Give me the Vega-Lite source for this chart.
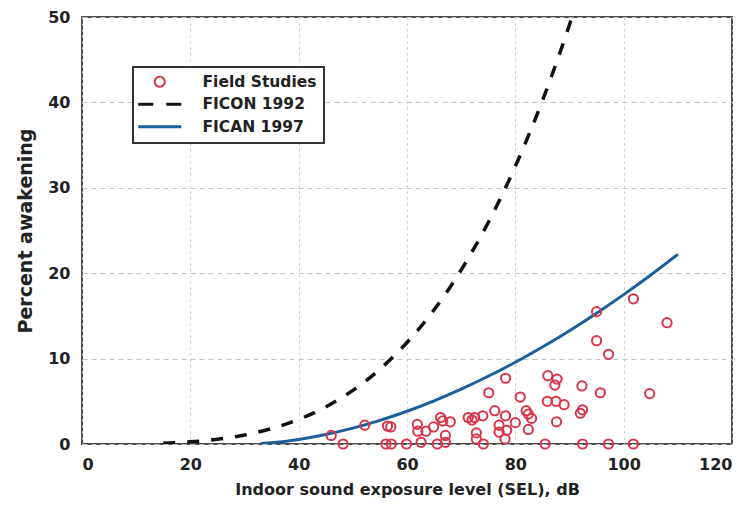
{
  "$schema": "https://vega.github.io/schema/vega-lite/v6.json",
  "width": 650,
  "height": 427,
  "autosize": {"type": "none"},
  "padding": {"left": 82, "top": 17, "right": 12, "bottom": 62},
  "background": "#ffffff",
  "datasets": {
    "ficon": [
      {"series": "FICON 1992", "sel": 15, "pct": 0.093},
      {"series": "FICON 1992", "sel": 20, "pct": 0.254},
      {"series": "FICON 1992", "sel": 25, "pct": 0.555},
      {"series": "FICON 1992", "sel": 30, "pct": 1.05},
      {"series": "FICON 1992", "sel": 35, "pct": 1.801},
      {"series": "FICON 1992", "sel": 40, "pct": 2.874},
      {"series": "FICON 1992", "sel": 45, "pct": 4.34},
      {"series": "FICON 1992", "sel": 50, "pct": 6.276},
      {"series": "FICON 1992", "sel": 55, "pct": 8.76},
      {"series": "FICON 1992", "sel": 60, "pct": 11.879},
      {"series": "FICON 1992", "sel": 65, "pct": 15.72},
      {"series": "FICON 1992", "sel": 70, "pct": 20.375},
      {"series": "FICON 1992", "sel": 75, "pct": 25.94},
      {"series": "FICON 1992", "sel": 80, "pct": 32.515},
      {"series": "FICON 1992", "sel": 85, "pct": 40.2},
      {"series": "FICON 1992", "sel": 88, "pct": 45.39},
      {"series": "FICON 1992", "sel": 90, "pct": 49.1},
      {"series": "FICON 1992", "sel": 90.45, "pct": 49.97}
    ],
    "fican": [
      {"series": "FICAN 1997", "sel": 33, "pct": 0.062},
      {"series": "FICAN 1997", "sel": 35, "pct": 0.155},
      {"series": "FICAN 1997", "sel": 40, "pct": 0.536},
      {"series": "FICAN 1997", "sel": 45, "pct": 1.108},
      {"series": "FICAN 1997", "sel": 50, "pct": 1.855},
      {"series": "FICAN 1997", "sel": 55, "pct": 2.767},
      {"series": "FICAN 1997", "sel": 60, "pct": 3.834},
      {"series": "FICAN 1997", "sel": 65, "pct": 5.054},
      {"series": "FICAN 1997", "sel": 70, "pct": 6.423},
      {"series": "FICAN 1997", "sel": 75, "pct": 7.93},
      {"series": "FICAN 1997", "sel": 80, "pct": 9.573},
      {"series": "FICAN 1997", "sel": 85, "pct": 11.355},
      {"series": "FICAN 1997", "sel": 90, "pct": 13.27},
      {"series": "FICAN 1997", "sel": 95, "pct": 15.32},
      {"series": "FICAN 1997", "sel": 100, "pct": 17.49},
      {"series": "FICAN 1997", "sel": 105, "pct": 19.79},
      {"series": "FICAN 1997", "sel": 110, "pct": 22.21}
    ],
    "field": [
      {"series": "Field Studies", "sel": 46.0, "pct": 1.0},
      {"series": "Field Studies", "sel": 48.2, "pct": 0},
      {"series": "Field Studies", "sel": 52.2, "pct": 2.2},
      {"series": "Field Studies", "sel": 56.1, "pct": 0},
      {"series": "Field Studies", "sel": 56.4, "pct": 2.1},
      {"series": "Field Studies", "sel": 57.0, "pct": 2.0},
      {"series": "Field Studies", "sel": 57.1, "pct": 0},
      {"series": "Field Studies", "sel": 59.9, "pct": 0},
      {"series": "Field Studies", "sel": 61.9, "pct": 2.3},
      {"series": "Field Studies", "sel": 62.0, "pct": 1.5},
      {"series": "Field Studies", "sel": 62.6, "pct": 0.2},
      {"series": "Field Studies", "sel": 63.5, "pct": 1.5},
      {"series": "Field Studies", "sel": 64.9, "pct": 2.0},
      {"series": "Field Studies", "sel": 65.6, "pct": 0},
      {"series": "Field Studies", "sel": 66.2, "pct": 3.1},
      {"series": "Field Studies", "sel": 66.6, "pct": 2.7},
      {"series": "Field Studies", "sel": 67.1, "pct": 1.0},
      {"series": "Field Studies", "sel": 67.1, "pct": 0.2},
      {"series": "Field Studies", "sel": 68.0, "pct": 2.6},
      {"series": "Field Studies", "sel": 71.3, "pct": 3.1},
      {"series": "Field Studies", "sel": 72.0, "pct": 2.8},
      {"series": "Field Studies", "sel": 72.5, "pct": 3.1},
      {"series": "Field Studies", "sel": 72.8, "pct": 1.3},
      {"series": "Field Studies", "sel": 72.8, "pct": 0.6},
      {"series": "Field Studies", "sel": 74.0, "pct": 3.3},
      {"series": "Field Studies", "sel": 74.1, "pct": 0},
      {"series": "Field Studies", "sel": 75.1, "pct": 6.0},
      {"series": "Field Studies", "sel": 76.2, "pct": 3.9},
      {"series": "Field Studies", "sel": 77.0, "pct": 2.2},
      {"series": "Field Studies", "sel": 77.0, "pct": 1.4},
      {"series": "Field Studies", "sel": 78.2, "pct": 7.7},
      {"series": "Field Studies", "sel": 78.2, "pct": 3.3},
      {"series": "Field Studies", "sel": 78.1, "pct": 0.6},
      {"series": "Field Studies", "sel": 78.4, "pct": 1.6},
      {"series": "Field Studies", "sel": 80.0, "pct": 2.5},
      {"series": "Field Studies", "sel": 80.9, "pct": 5.5},
      {"series": "Field Studies", "sel": 82.0, "pct": 3.9},
      {"series": "Field Studies", "sel": 82.4, "pct": 3.5},
      {"series": "Field Studies", "sel": 82.4, "pct": 1.7},
      {"series": "Field Studies", "sel": 83.0, "pct": 3.0},
      {"series": "Field Studies", "sel": 85.5, "pct": 0},
      {"series": "Field Studies", "sel": 86.0, "pct": 8.0},
      {"series": "Field Studies", "sel": 85.9, "pct": 5.0},
      {"series": "Field Studies", "sel": 87.3, "pct": 6.9},
      {"series": "Field Studies", "sel": 87.7, "pct": 7.6},
      {"series": "Field Studies", "sel": 87.5, "pct": 5.0},
      {"series": "Field Studies", "sel": 87.6, "pct": 2.6},
      {"series": "Field Studies", "sel": 89.0, "pct": 4.6},
      {"series": "Field Studies", "sel": 92.3, "pct": 6.8},
      {"series": "Field Studies", "sel": 92.4, "pct": 4.0},
      {"series": "Field Studies", "sel": 92.0, "pct": 3.6},
      {"series": "Field Studies", "sel": 92.4, "pct": 0},
      {"series": "Field Studies", "sel": 95.0, "pct": 15.5},
      {"series": "Field Studies", "sel": 95.0, "pct": 12.1},
      {"series": "Field Studies", "sel": 95.7, "pct": 6.0},
      {"series": "Field Studies", "sel": 97.2, "pct": 10.5},
      {"series": "Field Studies", "sel": 97.2, "pct": 0},
      {"series": "Field Studies", "sel": 101.8, "pct": 17.0},
      {"series": "Field Studies", "sel": 101.8, "pct": 0},
      {"series": "Field Studies", "sel": 104.8, "pct": 5.9},
      {"series": "Field Studies", "sel": 108.0, "pct": 14.2}
    ]
  },
  "encoding": {
    "x": {
      "field": "sel", "type": "quantitative",
      "scale": {"domain": [0, 120], "nice": false, "zero": false},
      "axis": {
        "title": "Indoor sound exposure level (SEL), dB",
        "values": [0, 20, 40, 60, 80, 100, 120],
        "format": "d",
        "gridDash": [2, 4],
        "labelPadding": 12,
        "titlePadding": 9,
        "titleFontSize": 16
      }
    },
    "y": {
      "field": "pct", "type": "quantitative",
      "scale": {"domain": [0, 50], "nice": false},
      "axis": {
        "title": "Percent awakening",
        "values": [0, 10, 20, 30, 40, 50],
        "format": "d",
        "gridDash": [5, 4],
        "labelPadding": 12,
        "titlePadding": 12,
        "titleFontSize": 19
      }
    },
    "color": {
      "field": "series", "type": "nominal",
      "scale": {
        "domain": ["Field Studies", "FICON 1992", "FICAN 1997"],
        "range": ["#d93448", "#111111", "#1b5e9b"]
      },
      "legend": {
        "title": null,
        "orient": "none",
        "legendX": 51,
        "legendY": 50,
        "padding": 7,
        "rowPadding": 5.5,
        "symbolSize": 400,
        "symbolOffset": 12,
        "labelOffset": 35,
        "labelFont": "DejaVu Sans",
        "labelFontWeight": "bold",
        "labelFontSize": 15.5,
        "labelColor": "#222222",
        "labelLimit": 300,
        "strokeColor": "#333333",
        "fillColor": "#ffffff",
        "encode": {
          "legend": {"update": {"strokeWidth": {"value": 2}}},
          "symbols": {
            "update": {
              "shape": {"signal": "datum.value === 'Field Studies' ? 'M0.5,0A0.5,0.5 0 1,1 -0.5,0A0.5,0.5 0 1,1 0.5,0Z' : 'M-2.15,0L2.15,0'"},
              "strokeDash": {"signal": "datum.value === 'FICON 1992' ? [15, 13] : [1, 0]"},
              "strokeWidth": {"signal": "datum.value === 'Field Studies' ? 2 : 3.2"},
              "fill": {"value": "transparent"},
              "fillOpacity": {"value": 0},
              "stroke": {"signal": "datum.value === 'Field Studies' ? '#d93448' : (datum.value === 'FICON 1992' ? '#111111' : '#1b5e9b')"},
              "opacity": {"value": 1}
            }
          }
        }
      }
    }
  },
  "layer": [
    {
      "data": {"name": "ficon"},
      "mark": {"type": "line", "strokeWidth": 3.5, "strokeDash": [12, 12], "interpolate": "monotone", "clip": true}
    },
    {
      "data": {"name": "fican"},
      "mark": {"type": "line", "strokeWidth": 3, "interpolate": "monotone", "clip": true}
    },
    {
      "data": {"name": "field"},
      "mark": {"type": "point", "shape": "circle", "filled": false, "size": 85, "strokeWidth": 2, "opacity": 1}
    }
  ],
  "config": {
    "view": {"stroke": "#4a4a4a", "strokeWidth": 2},
    "axis": {
      "labelFont": "DejaVu Sans",
      "labelFontWeight": "bold",
      "labelFontSize": 16,
      "labelColor": "#222222",
      "titleFont": "DejaVu Sans",
      "titleFontWeight": "bold",
      "titleFontSize": 16,
      "titleColor": "#222222",
      "ticks": false,
      "domain": false,
      "grid": true,
      "gridColor": "#c4c4c4",
      "gridWidth": 1
    }
  }
}
